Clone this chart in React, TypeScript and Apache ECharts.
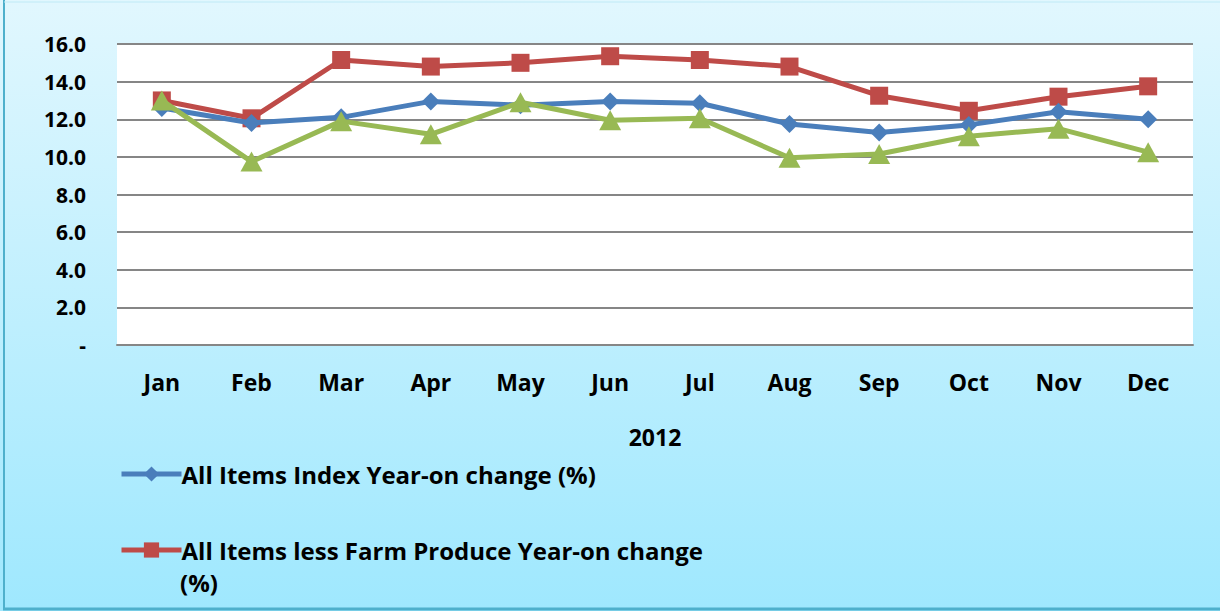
import React, { useEffect, useRef } from "react";
import * as echarts from "echarts";

const months = ["Jan", "Feb", "Mar", "Apr", "May", "Jun", "Jul", "Aug", "Sep", "Oct", "Nov", "Dec"];
const allItems = [12.6, 11.8, 12.1, 12.95, 12.75, 12.95, 12.85, 11.75, 11.3, 11.7, 12.4, 12.0];
const lessFarm = [13.0, 12.05, 15.15, 14.8, 15.0, 15.35, 15.15, 14.8, 13.25, 12.45, 13.2, 13.75];
const farmProduce = [13.0, 9.75, 11.9, 11.2, 12.9, 11.95, 12.05, 9.95, 10.15, 11.1, 11.5, 10.25];
const xTitle = "2012";
const nameAll = "All Items Index Year-on change (%)";
const nameLess = "All Items less Farm Produce Year-on change (%)";
const nameFarm = "Farm Produce Year-on change (%)";

const FONT = "'Open Sans'";

export default function App() {
  const ref = useRef<HTMLDivElement>(null);
  useEffect(() => {
    document.body.style.margin = "0";
    const chart = echarts.init(ref.current!, null, { renderer: "svg" });
    chart.setOption({
      animation: false,
      backgroundColor: {
        type: "linear", x: 0, y: 0, x2: 0, y2: 1,
        colorStops: [
          { offset: 0, color: "#e1f7fe" },
          { offset: 1, color: "#9fe8fe" },
        ],
      },
      graphic: [
        { type: "line", shape: { x1: 4, y1: 0, x2: 4, y2: 609 }, style: { stroke: "#4eb0cc", lineWidth: 2 } },
        { type: "line", shape: { x1: 3, y1: 609, x2: 1220, y2: 609 }, style: { stroke: "#4eb0cc", lineWidth: 3 } },
        { type: "line", shape: { x1: 4, y1: 2, x2: 1220, y2: 2 }, style: { stroke: "#bfeaf6", lineWidth: 1 } },
        {
          type: "text", left: 180, top: 570,
          style: { text: "(%)", font: `bold 24px ${FONT}`, fill: "#000" },
        },
      ],
      grid: { left: 117, right: 27, top: 44, bottom: 266, show: true, backgroundColor: "#ffffff", borderWidth: 0 },
      legend: {
        orient: "vertical",
        left: 119,
        top: 462,
        padding: 0,
        itemGap: 52,
        itemWidth: 60,
        itemHeight: 19,
        data: [nameAll, nameLess],
        lineStyle: { width: 5 },
        formatter: (n: string) => (n === nameLess ? "All Items less Farm Produce Year-on change" : n),
        textStyle: { fontFamily: FONT, fontWeight: "bold", fontSize: 24, color: "#000", padding: [0, 0, 0, -5] },
      },
      xAxis: {
        type: "category",
        data: months,
        boundaryGap: true,
        name: xTitle,
        nameLocation: "middle",
        nameGap: 80,
        nameTextStyle: { fontFamily: FONT, fontWeight: "bold", fontSize: 23, color: "#000" },
        axisLine: { show: true, lineStyle: { color: "#868686", width: 2 } },
        axisTick: { show: false },
        axisLabel: { fontFamily: FONT, fontWeight: "bold", fontSize: 23, color: "#000", margin: 25 },
      },
      yAxis: {
        type: "value",
        min: 0,
        max: 16,
        interval: 2,
        axisLine: { show: false },
        axisTick: { show: false },
        splitLine: { lineStyle: { color: "#868686", width: 2 } },
        axisLabel: {
          fontFamily: FONT, fontWeight: "bold", fontSize: 21, color: "#000", margin: 31,
          formatter: (v: number) => (v === 0 ? "-" : v.toFixed(1)),
        },
      },
      series: [
        {
          name: nameAll, type: "line", data: allItems,
          symbol: "diamond", symbolSize: 18,
          lineStyle: { color: "#4a7ebb", width: 5 },
          itemStyle: { color: "#4a7ebb" },
          z: 3,
        },
        {
          name: nameLess, type: "line", data: lessFarm,
          symbol: "rect", symbolSize: 18,
          lineStyle: { color: "#be4b48", width: 5 },
          itemStyle: { color: "#be4b48" },
          z: 2,
        },
        {
          name: nameFarm, type: "line", data: farmProduce,
          symbol: "triangle", symbolSize: [22, 20],
          lineStyle: { color: "#98b954", width: 5 },
          itemStyle: { color: "#98b954" },
          z: 4,
        },
      ],
    });
    return () => chart.dispose();
  }, []);
  return <div ref={ref} style={{ width: 1220, height: 611 }} />;
}
